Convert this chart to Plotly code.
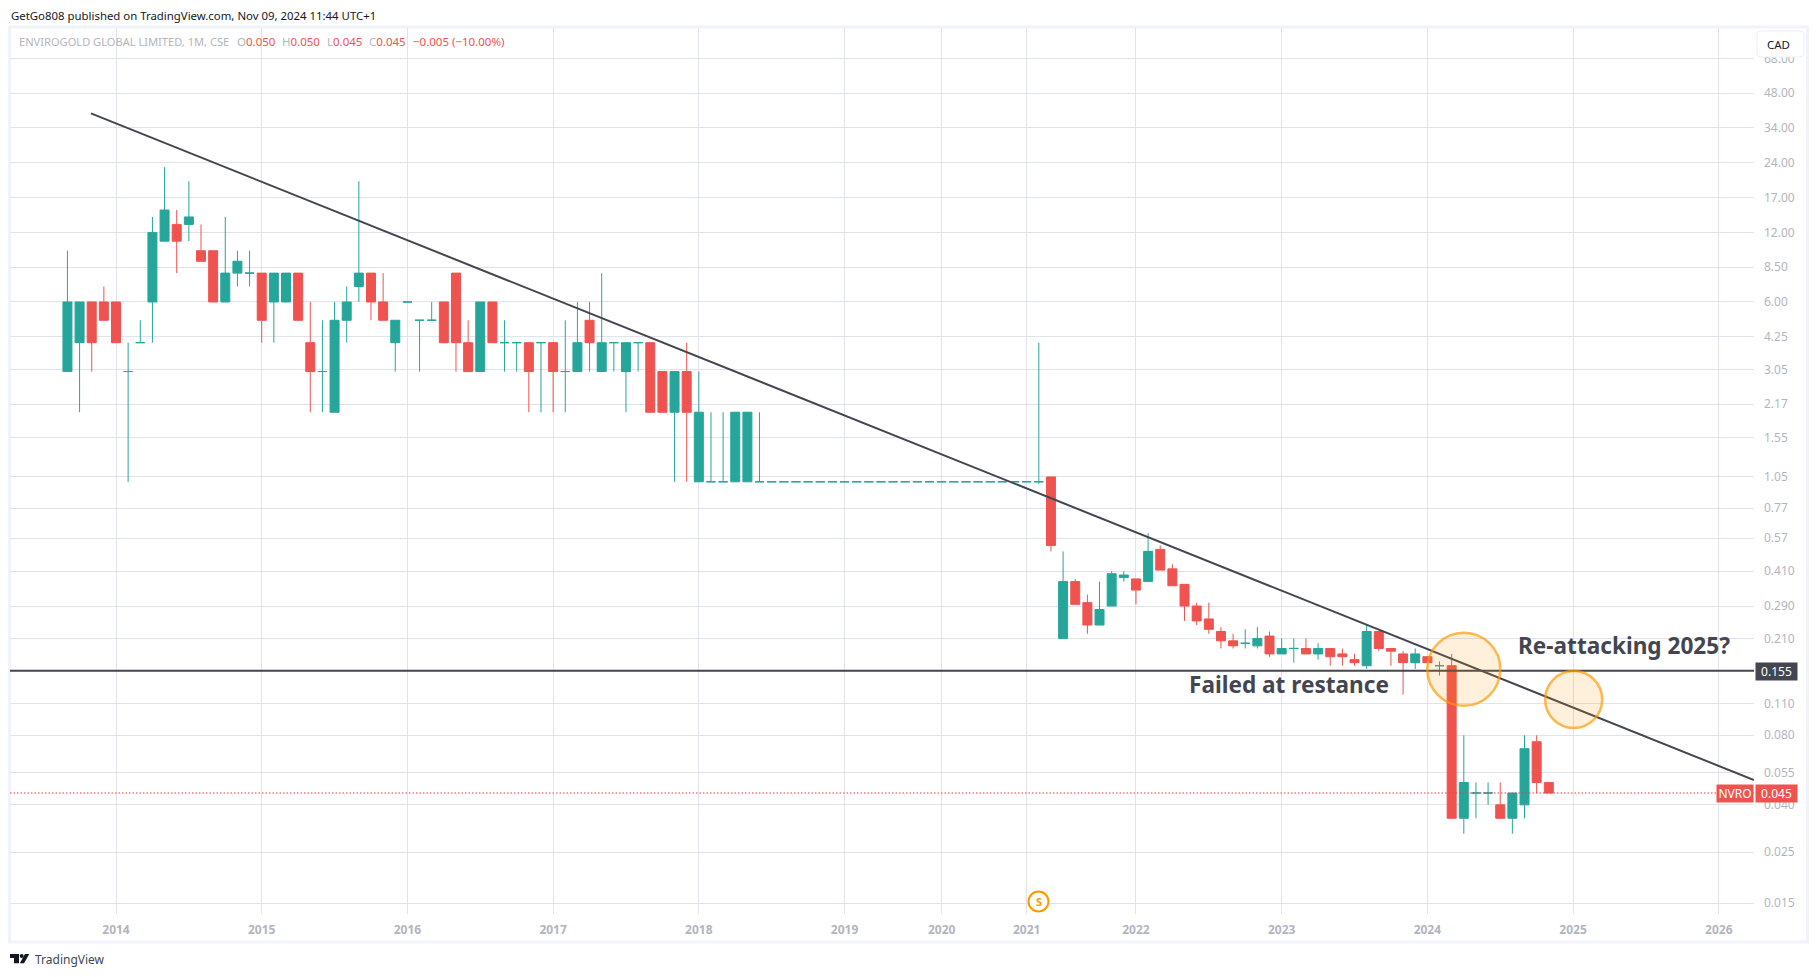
import plotly.graph_objects as go

# bars are evenly spaced by index, 2014 = 0 (months without data are simply absent)
bar_index = list(range(-4, 119))
opens = [3, 4, 6, 6, 6, 3, 4, 6, 11, 13, 13, 10, 10, 6, 8, 8, 8, 6, 6, 8, 4, 3, 2, 5, 7, 8, 6, 4, 6, 5, 5, 6, 8, 4, 3, 6, 4, 4, 4, 4, 4, 3, 3, 5, 3, 4,
         3, 4, 4, 3, 2, 3, 1, 1, 1, 1, 1, 1,
         1, 1, 1, 1, 1, 1, 1, 1, 1, 1, 1, 1, 1, 1, 1, 1, 1, 1, 1, 1, 1, 1, 1,
         1.05, 0.21, 0.37, 0.30, 0.24, 0.29, 0.385, 0.38, 0.37, 0.51, 0.42, 0.36, 0.29, 0.255, 0.225, 0.205, 0.20, 0.195, 0.215, 0.18, 0.19, 0.19, 0.18, 0.19, 0.18, 0.17, 0.16, 0.225, 0.19, 0.18, 0.165, 0.175, 0.16, 0.16,
         0.035, 0.045, 0.045, 0.04, 0.035, 0.04, 0.075, 0.05]
highs = [10, 6, 6, 7, 6, 4, 5, 14, 23, 15, 20, 13, 10, 14, 10, 10, 8, 8, 8, 8, 6, 5, 6, 7, 20, 8, 8, 5, 6, 5, 6, 6, 8, 5, 6, 6, 5, 4, 4, 4, 4, 5, 6, 6, 8, 4,
         4, 4, 4, 3, 3, 4, 3, 2, 2, 2, 2, 2,
         1, 1, 1, 1, 1, 1, 1, 1, 1, 1, 1, 1, 1, 1, 1, 1, 1, 1, 1, 1, 1, 1, 4,
         1.05, 0.50, 0.38, 0.325, 0.37, 0.41, 0.41, 0.38, 0.60, 0.53, 0.44, 0.36, 0.30, 0.30, 0.235, 0.22, 0.23, 0.235, 0.225, 0.21, 0.21, 0.21, 0.20, 0.19, 0.19, 0.18, 0.24, 0.225, 0.19, 0.185, 0.19, 0.175, 0.167, 0.18,
         0.08, 0.05, 0.05, 0.05, 0.045, 0.08, 0.08, 0.05]
lows = [3, 2, 3, 5, 4, 1, 4, 4, 11, 8, 11, 9, 6, 6, 7, 7, 4, 4, 6, 5, 2, 2, 2, 4, 6, 5, 5, 3, 6, 3, 5, 4, 3, 3, 3, 4, 3, 3, 2, 2, 2, 2, 3, 3, 3, 3,
         2, 3, 2, 2, 1, 1, 1, 1, 1, 1, 1, 1,
         1, 1, 1, 1, 1, 1, 1, 1, 1, 1, 1, 1, 1, 1, 1, 1, 1, 1, 1, 1, 1, 1, 0.98,
         0.50, 0.21, 0.295, 0.22, 0.24, 0.29, 0.37, 0.295, 0.37, 0.415, 0.355, 0.25, 0.24, 0.22, 0.19, 0.19, 0.19, 0.19, 0.175, 0.18, 0.165, 0.18, 0.17, 0.16, 0.16, 0.16, 0.155, 0.185, 0.16, 0.12, 0.155, 0.165, 0.145, 0.035,
         0.03, 0.035, 0.04, 0.035, 0.03, 0.035, 0.045, 0.045]
closes = [6, 6, 4, 5, 4, 3, 4, 12, 15, 11, 14, 9, 6, 8, 9, 8, 5, 8, 8, 5, 3, 3, 5, 6, 8, 6, 5, 5, 6, 5, 5, 4, 4, 3, 6, 4, 4, 4, 3, 4, 3, 3, 4, 4, 4, 4,
         4, 4, 2, 2, 3, 2, 2, 1, 1, 2, 2, 1,
         1, 1, 1, 1, 1, 1, 1, 1, 1, 1, 1, 1, 1, 1, 1, 1, 1, 1, 1, 1, 1, 1, 1,
         0.53, 0.37, 0.295, 0.24, 0.28, 0.40, 0.395, 0.34, 0.50, 0.415, 0.355, 0.29, 0.25, 0.23, 0.205, 0.195, 0.20, 0.21, 0.18, 0.19, 0.19, 0.18, 0.19, 0.175, 0.175, 0.165, 0.225, 0.19, 0.185, 0.165, 0.18, 0.165, 0.16, 0.035,
         0.05, 0.045, 0.045, 0.035, 0.045, 0.07, 0.05, 0.045]

year_ticks = [0, 12, 24, 36, 48, 60, 68, 75, 84, 96, 108, 120, 132]
year_labels = ["2014", "2015", "2016", "2017", "2018", "2019", "2020", "2021", "2022", "2023", "2024", "2025", "2026"]

price_ticks = [68, 48, 34, 24, 17, 12, 8.5, 6, 4.25, 3.05, 2.17, 1.55, 1.05, 0.77, 0.57, 0.41, 0.29, 0.21, 0.11, 0.08, 0.055, 0.04, 0.025, 0.015]
price_labels = ["68.00", "48.00", "34.00", "24.00", "17.00", "12.00", "8.50", "6.00", "4.25", "3.05", "2.17", "1.55", "1.05", "0.77", "0.57", "0.410", "0.290", "0.210", "0.110", "0.080", "0.055", "0.040", "0.025", "0.015"]

trend_x = [-2.06, 134.9]
trend_y = [39.3, 0.0512]
support_x = [-8.73, 134.9]
support_y = [0.152, 0.152]
last_x = [-8.73, 134.9]
last_y = [0.045, 0.045]
circle_x = [111.0, 120.05]
circle_y = [0.1544, 0.1143]
circle_d = [73, 57]

TEAL = "#26a69a"
RED = "#ef5350"
DARK = "#434651"
GRID = "#e0e3eb"
GRAY = "#b2b5be"
FONT = "Noto Sans"

# plotly colours a flat bar by the previous close, here they are all teal
drawn_closes = [c * 1.0005 if c == o else c for o, c in zip(opens, closes)]

fig = go.Figure()

fig.add_trace(go.Candlestick(
    x=bar_index, open=opens, high=highs, low=lows, close=drawn_closes,
    increasing=dict(line=dict(color=TEAL, width=1), fillcolor=TEAL),
    decreasing=dict(line=dict(color=RED, width=1), fillcolor=RED),
    whiskerwidth=0,
))
fig.add_trace(go.Scatter(x=last_x, y=last_y, mode="lines", line=dict(color="#f23645", width=1, dash="1.5px 2px")))
fig.add_trace(go.Scatter(x=support_x, y=support_y, mode="lines", line=dict(color=DARK, width=2)))
fig.add_trace(go.Scatter(x=trend_x, y=trend_y, mode="lines", line=dict(color=DARK, width=2)))
fig.add_trace(go.Scatter(
    x=circle_x, y=circle_y, mode="markers",
    marker=dict(size=circle_d, color="rgba(255,152,0,0.2)", line=dict(color="#ff9800", width=2.5)),
))

# the page keeps 8px of body margin, so the figure is that much smaller
fig.update_layout(
    width=1810, height=969,
    margin=dict(l=2, r=64, t=20, b=63, autoexpand=False),
    paper_bgcolor="white", plot_bgcolor="white",
    showlegend=False,
    boxgap=0.26, boxgroupgap=0,
    font=dict(family=FONT, size=12, color=GRAY),
)
fig.update_xaxes(
    range=[-8.73, 134.9], rangeslider_visible=False,
    tickmode="array", tickvals=year_ticks, ticktext=[f"<b>{y}</b>" for y in year_labels],
    showgrid=True, gridcolor=GRID, gridwidth=1, zeroline=False, showline=False,
    ticklabelstandoff=7,
)
fig.update_yaxes(
    type="log", range=[-1.8703, 1.9638], side="right",
    tickmode="array", tickvals=price_ticks, ticktext=price_labels,
    showgrid=True, gridcolor=GRID, gridwidth=1, zeroline=False, showline=False,
    ticklabelstandoff=9,
)


def px_x(px):
    return (px - 10) / 1744


def px_y(px):
    return (914 - px) / 886


def pt(x, y):
    return f"{px_x(x):.5f},{px_y(y):.5f}"


def poly(points):
    return "M" + " L".join(pt(x, y) for x, y in points) + " Z"


# outer frame of the published image
fig.add_shape(type="rect", xref="paper", yref="paper", x0=px_x(9.5), x1=px_x(1807.5), y0=px_y(942), y1=px_y(27),
              line=dict(color="#f0f3fa", width=3), layer="below")


def note(px, py, text, **kw):
    kw.setdefault("xanchor", "left")
    kw.setdefault("yanchor", "middle")
    kw.setdefault("showarrow", False)
    fig.add_annotation(xref="paper", yref="paper", x=px_x(px), y=px_y(py), text=text, **kw)


note(9, 15, "GetGo808 published on TradingView.com, Nov 09, 2024 11:44 UTC+1", font=dict(size=11.4, color="#131722", family=FONT))

red = lambda s: f'<span style="color:{RED}">{s}</span>'
legend_font = dict(size=11.5, color=GRAY, family=FONT)
note(17, 41, "ENVIROGOLD GLOBAL LIMITED, 1M, CSE", font=dict(size=11.1, color=GRAY, family=FONT))
note(235, 41, "O" + red("0.050"), font=legend_font)
note(280, 41, "H" + red("0.050"), font=legend_font)
note(325, 41, "L" + red("0.045"), font=legend_font)
note(367, 41, "C" + red("0.045"), font=legend_font)
note(411, 41, red("−0.005 (−10.00%)"), font=legend_font)

note(1516, 645.5, "<b>Re-attacking 2025?</b>", font=dict(size=22.6, color=DARK, family=FONT))
note(1187, 684, "<b>Failed at restance</b>", font=dict(size=22.6, color=DARK, family=FONT))

note(1776.5, 671.5, "0.155", xanchor="center", width=39, height=15, bgcolor=DARK, font=dict(size=12, color="white", family=FONT))
note(1776.5, 793.5, "0.045", xanchor="center", width=39, height=15, bgcolor=RED, font=dict(size=12, color="white", family=FONT))
note(1735, 793.5, "NVRO", xanchor="center", width=34, height=15, bgcolor=RED, font=dict(size=12, color="white", family=FONT))

# currency button over the top of the price scale
l, r, t, b, c = 1757, 1804, 31, 57, 4
fig.add_shape(type="path", xref="paper", yref="paper", fillcolor="white", line=dict(color="#eceef3", width=1),
              path=(f"M{pt(l + c, t)} L{pt(r - c, t)} Q{pt(r, t)} {pt(r, t + c)} L{pt(r, b - c)} Q{pt(r, b)} {pt(r - c, b)}"
                    f" L{pt(l + c, b)} Q{pt(l, b)} {pt(l, b - c)} L{pt(l, t + c)} Q{pt(l, t)} {pt(l + c, t)} Z"))
note(1778, 44.5, "CAD", xanchor="center", font=dict(size=11.5, color="#131722", family=FONT))

# dividend marker
fig.add_shape(type="circle", xref="paper", yref="paper", x0=px_x(1028.5), x1=px_x(1048.5), y0=px_y(911.5), y1=px_y(891.5),
              line=dict(color="#ff9800", width=2), fillcolor="white")
note(1038.5, 901.5, "<b>S</b>", xanchor="center", font=dict(size=11, color="#ff9800", family=FONT))

# TradingView mark under the chart
logo_t = [(10, 954), (19, 954), (19, 963.3), (14, 963.3), (14, 958), (10, 958)]
logo_slash = [(25, 954), (29.3, 954), (24, 963.3), (19.8, 963.3)]
for shape in (logo_t, logo_slash):
    fig.add_shape(type="path", xref="paper", yref="paper", path=poly(shape), fillcolor="#131722", line=dict(width=0))
fig.add_shape(type="circle", xref="paper", yref="paper", x0=px_x(19.7), x1=px_x(23.7), y0=px_y(958), y1=px_y(954),
              fillcolor="#131722", line=dict(width=0))
note(33, 960, "TradingView", font=dict(size=12, color=DARK, family=FONT))

fig.write_html("out.html")
